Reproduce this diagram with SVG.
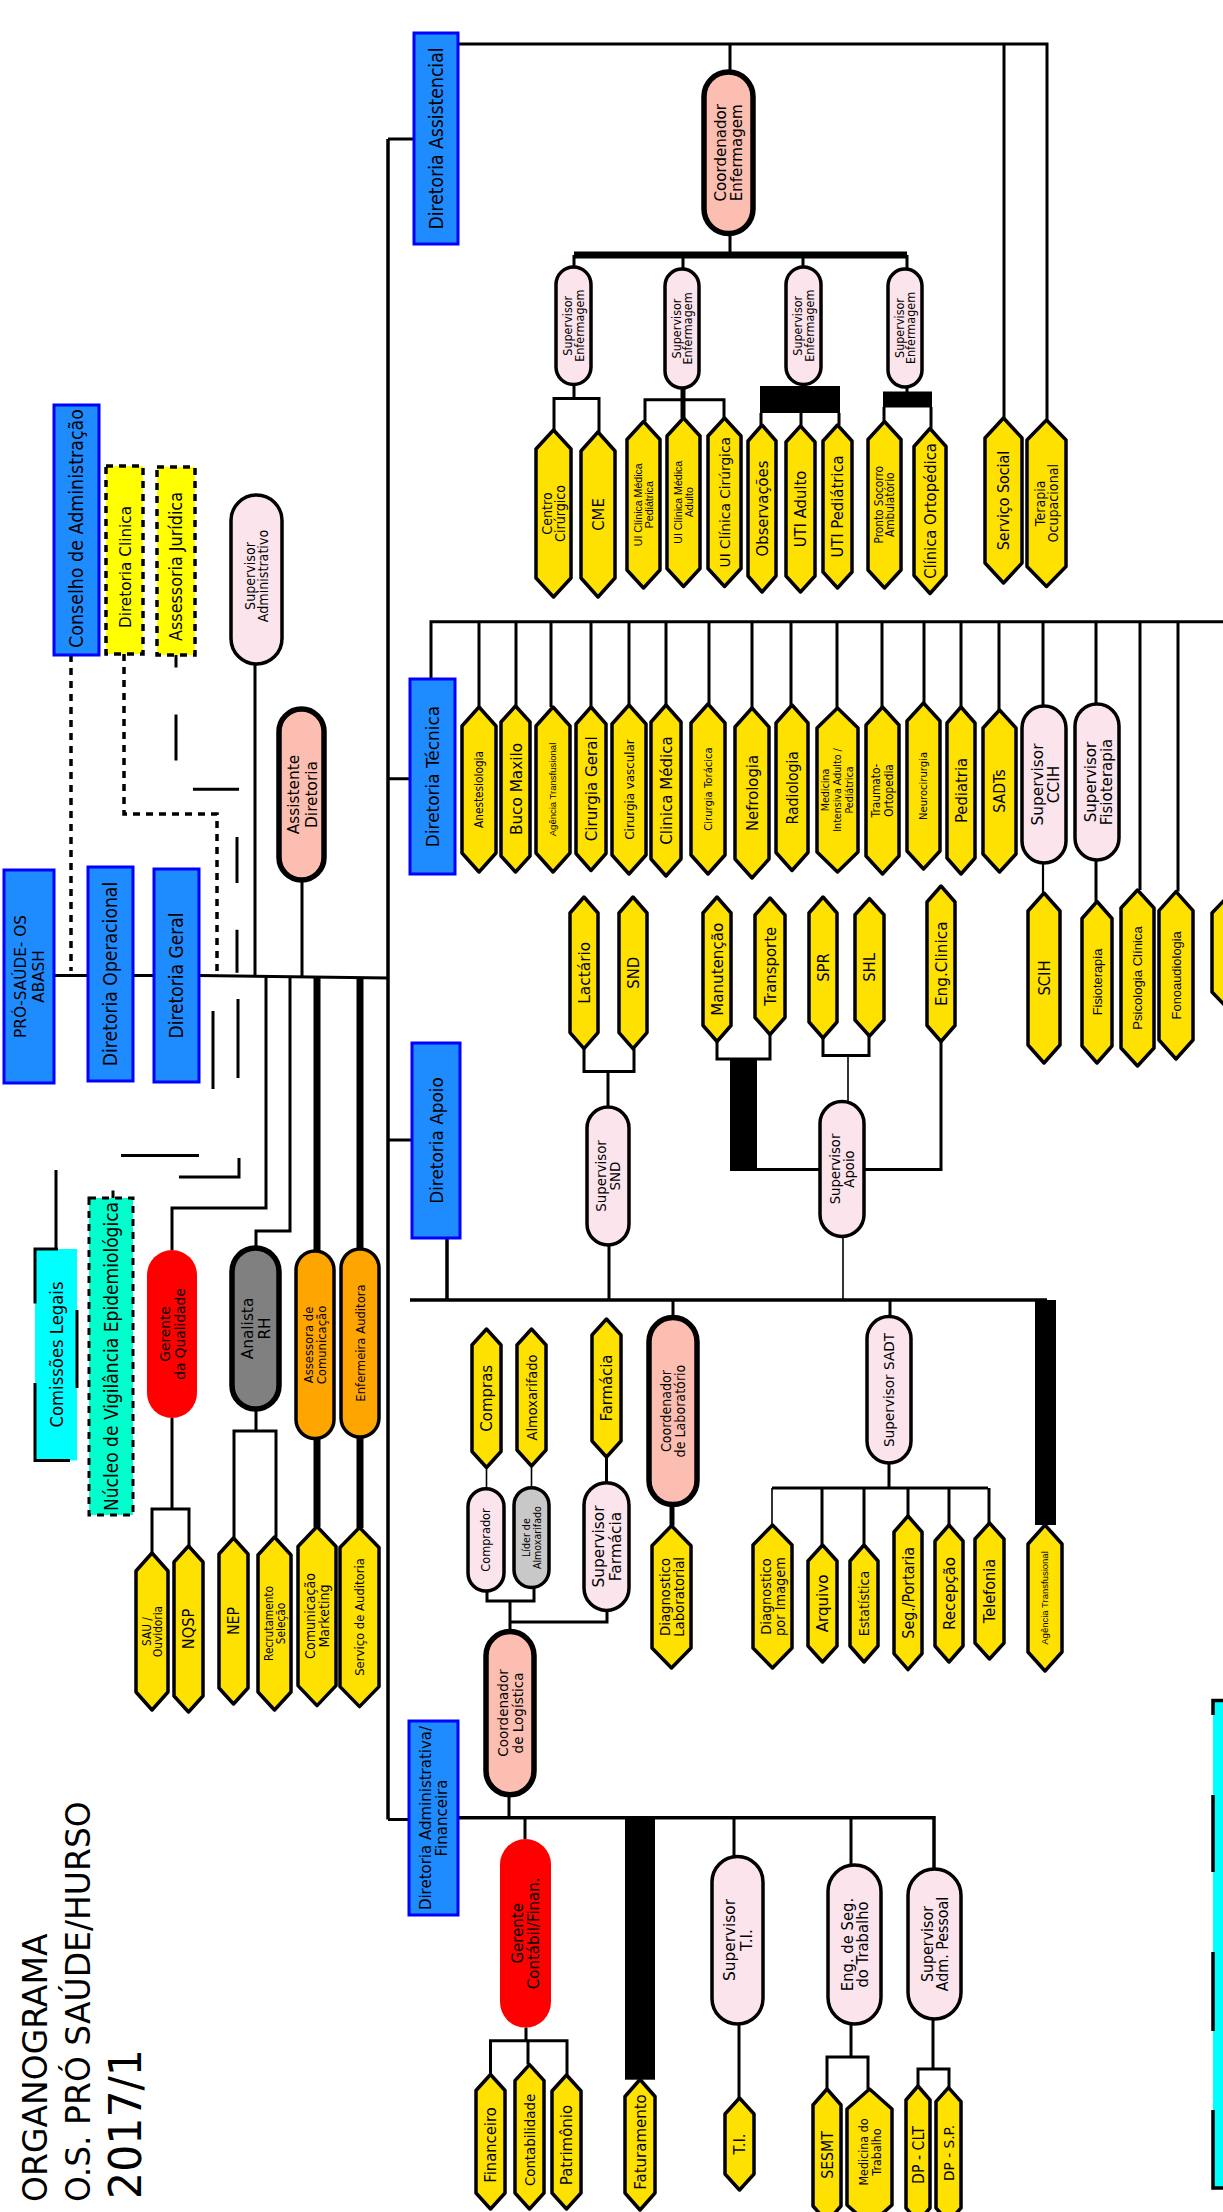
<svg xmlns="http://www.w3.org/2000/svg" width="1223" height="2212" viewBox="0 0 1223 2212">
<style>
.c{fill:none;stroke:#000;stroke-width:3}
.c2{fill:none;stroke:#000;stroke-width:1.6}
.c5{fill:none;stroke:#000;stroke-width:5}
.c6{fill:none;stroke:#000;stroke-width:7}
.d{fill:none;stroke:#000;stroke-width:3.5;stroke-dasharray:7 6}
.y{fill:#FFE100;stroke:#000;stroke-width:3.5;stroke-linejoin:round}
.pk{fill:#FCE4EC;stroke:#000;stroke-width:3.5}
.sa{fill:#FBBEB0;stroke:#000;stroke-width:5.5}
.bl{fill:#1E8CFF;stroke:#0000FF;stroke-width:3}
.or{fill:#FFA500;stroke:#000;stroke-width:3.5}
.rd{fill:#FF0000}
.t{font-family:"DejaVu Sans",Verdana,sans-serif;text-anchor:middle;fill:#000}
.l{font-family:"Liberation Sans",Arial,sans-serif;text-anchor:middle;fill:#000}
.ti{font-family:"DejaVu Sans",Verdana,sans-serif;fill:#000}
.blk{fill:#000}
</style>
<rect x="0" y="0" width="1223" height="2212" fill="#fff"/>

<g id="connectors">
<path class="c" style="stroke-width:3.5" d="M388,139 V1819.5"/>
<path class="c" d="M388,139 H414 M388,778.7 H410 M388,1140 H412 M388,1819.5 H409"/>
<path class="c" d="M54,975.6 H88 M133,975.6 H154 M199,975.6 L388,978"/>
<path class="d" d="M71,655 V971"/>
<path class="d" d="M124,654 V814 H217 V973"/>
<path class="c" d="M176,655 V667.6 M176,714.5 V760.4 M193,789.3 H239 M237,837 V883 M237,929.7 V972.7"/>
<path class="c" d="M213,1011 V1089 M238,999 V1078 M121,1155.4 H199 M179,1177 H239 V1158"/>
<path class="c" d="M56,1170 V1249 M113,1190.6 V1198"/>
<path class="c" d="M255,664 V976 M302,880 V976"/>
<path class="c" d="M266,977 V1208 H172 V1250 M290,977 V1231 H256 V1248"/>
<path class="c6" d="M317,977 V1251 M360,977 V1249 M317,1438 V1527 M360,1437 V1528"/>
<path class="c" d="M172,1418 V1509 M152,1553 V1509 H189 V1546 M256,1409 V1431 M234,1538 V1431 H276 V1537"/>

<path class="c" d="M458,44 H1047 V420 M1004,44 V418 M730,44 V72 M730,233.5 V255"/>
<path class="c6" d="M574,255 H907"/>
<path class="c" d="M574,255 V267 M683,255 V269 M803,255 V267 M907,255 V269"/>
<path class="c" d="M574,384.5 V398.6 M554,430 V398.6 H599 V432"/>
<path class="c" d="M645,421.5 V399.7 H724 V418"/>
<path class="c5" d="M683,388 V418"/>
<path class="c" d="M803,384.5 V387 M761,413 V425 M801,413 V426 M839,413 V425"/>
<rect class="blk" x="760" y="386" width="80" height="27"/>
<path class="c" d="M907,387 V392 M884,407 V421.5 M931,407 V428.5"/>
<rect class="blk" x="883" y="391.5" width="49" height="16"/>

<path class="c" d="M431,679 V621.8 H1223"/>
<path class="c" d="M479,621.8 V707 M516,621.8 V706 M551,621.8 V707 M591,621.8 V707 M629,621.8 V705 M666,621.8 V705 M709,621.8 V704 M752,621.8 V708 M791,621.8 V705 M837,621.8 V708 M882,621.8 V707 M924,621.8 V703 M961,621.8 V707 M999,621.8 V710 M1043,621.8 V706 M1096,621.8 V704 M1140,621.8 V890 M1178,621.8 V891.6"/>
<path class="c" style="stroke-width:2.2" d="M1043,863 V893"/>
<path class="c" d="M1096,860 V901.5"/>

<path class="c" style="stroke-width:3.5" d="M447,1238 V1300 M410,1300 H1047"/>
<rect class="blk" x="1035" y="1300" width="21" height="225"/>
<path class="c" d="M609,1245 V1300 M608,1071.5 V1107 M584,1048.6 V1071.5 H634 V1048.6"/>
<path class="c" d="M717,1041.5 V1059 H770 V1034.5"/>
<rect class="blk" x="730" y="1060" width="27" height="111"/>
<path class="c" d="M757,1169.5 H820 M941,1041.5 V1169.5 H864"/>
<path class="c" d="M823,1038 V1055.6 H869 V1036"/>
<path class="c2" d="M848,1055.6 V1101.5 M843,1236.5 V1300"/>
<path class="c" d="M673,1300 V1317.6"/>
<path class="c5" d="M672,1504.6 V1525.7"/>
<path class="c" d="M890,1300 V1316.6 M889,1463 V1488 M772,1488 H988"/>
<path class="c" d="M822,1488 V1545 M864,1488 V1545 M908,1488 V1516 M949,1488 V1525 M989,1488 V1523"/>
<path class="c2" d="M772,1488 V1525 M486.5,1467.5 V1488.7 M531.5,1466 V1487.7"/>
<path class="c" d="M487,1591 V1601 H534 V1587.5 M510,1601 V1631.6 M510,1622 H607 V1610.4 M606.5,1457 V1482.7"/>

<path class="c" style="stroke-width:3.5" d="M458,1817.7 H934 V1869"/>
<path class="c" d="M509,1794.8 V1817.7 M525,1817.7 V1839 M734,1817.7 V1856.5 M851,1817.7 V1865"/>
<rect class="blk" x="625" y="1817.7" width="30" height="262"/>
<path class="c" d="M739,2024 V2098"/>
<path class="c" d="M526,2027.6 V2040.7 M490.5,2074.5 V2040.7 H567 V2075 M528,2040.7 V2064.6"/>
<path class="c" d="M851,2024 V2057 M827,2089 V2057 H868 V2089"/>
<path class="c" d="M933,2019 V2069 M918,2086 V2069 H949 V2087.6"/>
</g>

<g id="title">
<text class="ti" font-size="33" transform="translate(47,2202) rotate(-90)">ORGANOGRAMA</text>
<text class="ti" font-size="33" transform="translate(90,2202) rotate(-90)">O.S. PRÓ SAÚDE/HURSO</text>
<text class="ti" font-size="44" textLength="150" lengthAdjust="spacingAndGlyphs" transform="translate(141,2199) rotate(-90)">2017/1</text>
</g>

<!-- Blue boxes -->
<g id="n-pro-saude"><rect class="bl" x="4" y="870" width="50" height="213"/><text class="t" font-size="16.6" transform="translate(29,976.5) rotate(-90) scale(0.92,1)"><tspan x="0" y="-3.5">PRÓ-SAÚDE- OS</tspan><tspan x="0" y="14.5">ABASH</tspan></text></g>
<g id="n-dir-operacional"><rect class="bl" x="88" y="867" width="45" height="214"/><text class="t" font-size="18.75" y="6.75" transform="translate(110.5,974) rotate(-90) scale(0.92,1)">Diretoria Operacional</text></g>
<g id="n-dir-geral"><rect class="bl" x="154" y="869" width="45" height="213"/><text class="t" font-size="18.6" y="6.7" transform="translate(176.5,975.5) rotate(-90) scale(0.92,1)">Diretoria Geral</text></g>
<g id="n-conselho"><rect class="bl" x="54" y="405" width="45" height="250"/><text class="t" font-size="19" y="6.8" transform="translate(76.5,528.5) rotate(-90) scale(0.92,1)">Conselho de Administração</text></g>
<g id="n-dir-clinica"><rect x="106" y="466" width="37" height="188" fill="#FFFF00" stroke="#000" stroke-width="3.5" stroke-dasharray="7 6"/><text class="t" font-size="16.6" y="6" transform="translate(124.5,567) rotate(-90) scale(0.92,1)">Diretoria Clinica</text></g>
<g id="n-assessoria-juridica"><rect x="157" y="467" width="38" height="188" fill="#FFFF00" stroke="#000" stroke-width="3.5" stroke-dasharray="7 6"/><text class="t" font-size="17.4" y="6.3" transform="translate(176,566.5) rotate(-90) scale(0.92,1)">Assessoria Jurídica</text></g>
<g id="n-dir-assistencial"><rect class="bl" x="414" y="33" width="44" height="211"/><text class="t" font-size="18.75" y="6.75" transform="translate(436,138.5) rotate(-90) scale(0.92,1)">Diretoria Assistencial</text></g>
<g id="n-dir-tecnica"><rect class="bl" x="410" y="679" width="45" height="195"/><text class="t" font-size="18.4" y="6.6" transform="translate(432.5,776.5) rotate(-90) scale(0.92,1)">Diretoria Técnica</text></g>
<g id="n-dir-apoio"><rect class="bl" x="412" y="1043" width="48" height="195"/><text class="t" font-size="18.4" y="6.6" transform="translate(436,1140.5) rotate(-90) scale(0.92,1)">Diretoria Apoio</text></g>
<g id="n-dir-adm"><rect class="bl" x="409" y="1721" width="49" height="194"/><text class="t" font-size="16.3" transform="translate(433.5,1818) rotate(-90) scale(0.92,1)"><tspan x="0" y="-2.5">Diretoria Administrativa/</tspan><tspan x="0" y="13.8">Financeira</tspan></text></g>

<!-- Left side -->
<g id="n-comissoes"><rect x="35" y="1249" width="42" height="211.5" fill="#00FFFF"/><path class="c" d="M58,1249 H35 V1303.5 M35,1383 V1460.5 H70 M77,1310 V1388"/><text class="t" font-size="17.9" y="6.5" transform="translate(56,1354.5) rotate(-90) scale(0.92,1)">Comissões Legais</text></g>
<g id="n-nucleo"><rect x="89" y="1198" width="44" height="317" fill="#00FFCC" stroke="#000" stroke-width="3" stroke-dasharray="7 6"/><text class="t" font-size="18.6" y="6.7" transform="translate(111,1356.5) rotate(-90) scale(0.92,1)">Núcleo de Vigilância Epidemiológica</text></g>
<g id="n-sup-adm"><rect class="pk" x="231" y="495" width="51" height="169" rx="25.5"/><text class="t" font-size="13.8" transform="translate(256.5,576) rotate(-90) scale(0.92,1)"><tspan x="0" y="-1.75">Supervisor</tspan><tspan x="0" y="11.7">Administrativo</tspan></text></g>
<g id="n-assistente"><rect class="sa" x="279" y="709" width="45" height="171" rx="22.5"/><text class="t" font-size="16.7" transform="translate(301.5,794.5) rotate(-90) scale(0.92,1)"><tspan x="0" y="-2.3">Assistente</tspan><tspan x="0" y="15">Diretoria</tspan></text></g>
<g id="n-ger-qualidade"><rect class="rd" x="147" y="1250" width="50" height="168" rx="25"/><text class="t" font-size="14.95" transform="translate(172,1334) rotate(-90) scale(0.92,1)"><tspan x="0" y="-1.9">Gerente</tspan><tspan x="0" y="12.7">da Qualidade</tspan></text></g>
<g id="n-analista-rh"><rect x="232" y="1248" width="47" height="161" rx="23.5" fill="#808080" stroke="#000" stroke-width="5.5"/><text class="t" font-size="16.7" transform="translate(255.5,1328.5) rotate(-90) scale(0.92,1)"><tspan x="0" y="-2.1">Analista</tspan><tspan x="0" y="14.1">RH</tspan></text></g>
<g id="n-assessora"><rect class="or" x="296" y="1251" width="38" height="187.6" rx="19"/><text class="t" font-size="12.65" transform="translate(315,1345) rotate(-90) scale(0.92,1)"><tspan x="0" y="-1.6">Assessora de</tspan><tspan x="0" y="10.7">Comunicação</tspan></text></g>
<g id="n-enf-auditora"><rect class="or" x="341" y="1249" width="38" height="188" rx="19"/><text class="t" font-size="12.65" y="4.55" transform="translate(360,1343) rotate(-90) scale(0.92,1)">Enfermeira Auditora</text></g>
<g id="n-sau"><path class="y" d="M136,1571 L152,1553 L168,1571 V1692 L152,1710 L136,1692Z"/><text class="t" font-size="11.5" transform="translate(152,1631.5) rotate(-90) scale(0.92,1)"><tspan x="0" y="-1.5">SAU /</tspan><tspan x="0" y="9.7">Ouvidoria</tspan></text></g>
<g id="n-nqsp"><path class="y" d="M174,1562 L188.5,1546 L203,1562 V1696 L188.5,1712 L174,1696Z"/><text class="t" font-size="15.9" y="5.7" transform="translate(188.5,1629) rotate(-90) scale(0.92,1)">NQSP</text></g>
<g id="n-nep"><path class="y" d="M219,1554 L233.5,1538 L248,1554 V1688 L233.5,1704 L219,1688Z"/><text class="t" font-size="15.4" y="5.55" transform="translate(233.5,1621) rotate(-90) scale(0.92,1)">NEP</text></g>
<g id="n-recrutamento"><path class="y" d="M258,1555 L274.5,1537 L291,1555 V1692 L274.5,1710 L258,1692Z"/><text class="t" font-size="11.5" transform="translate(274.5,1623.5) rotate(-90) scale(0.92,1)"><tspan x="0" y="-1.5">Recrutamento</tspan><tspan x="0" y="10.5">Seleção</tspan></text></g>
<g id="n-com-marketing"><path class="y" d="M298,1546.5 L317,1526.5 L336,1546.5 V1685.6 L317,1705.6 L298,1685.6Z"/><text class="t" font-size="13.8" transform="translate(317,1616) rotate(-90) scale(0.92,1)"><tspan x="0" y="-1.75">Comunicação</tspan><tspan x="0" y="12.2">Marketing</tspan></text></g>
<g id="n-serv-auditoria"><path class="y" d="M340,1547.5 L359.5,1527.5 L379,1547.5 V1686.6 L359.5,1706.6 L340,1686.6Z"/><text class="t" font-size="12.65" y="4.55" transform="translate(359.5,1617) rotate(-90) scale(0.92,1)">Serviço de Auditoria</text></g>

<!-- Assistencial -->
<g id="n-coord-enf"><rect class="sa" x="704" y="72" width="49" height="161.5" rx="24.5"/><text class="t" font-size="16.4" transform="translate(728.5,152.75) rotate(-90) scale(0.92,1)"><tspan x="0" y="-2.3">Coordenador</tspan><tspan x="0" y="13.9">Enfermagem</tspan></text></g>
<g id="n-sup-enf-1"><rect class="pk" x="556" y="267" width="35" height="117.5" rx="17.5"/><text class="t" font-size="12.2" transform="translate(573.5,325.75) rotate(-90) scale(0.92,1)"><tspan x="0" y="-1.5">Supervisor</tspan><tspan x="0" y="10.3">Enfermagem</tspan></text></g>
<g id="n-sup-enf-2"><rect class="pk" x="665" y="269" width="34" height="119" rx="17"/><text class="t" font-size="12.2" transform="translate(682,328.5) rotate(-90) scale(0.92,1)"><tspan x="0" y="-1.5">Supervisor</tspan><tspan x="0" y="10.3">Enfermagem</tspan></text></g>
<g id="n-sup-enf-3"><rect class="pk" x="786" y="267" width="35" height="117.5" rx="17.5"/><text class="t" font-size="12.2" transform="translate(803.5,325.75) rotate(-90) scale(0.92,1)"><tspan x="0" y="-1.5">Supervisor</tspan><tspan x="0" y="10.3">Enfermagem</tspan></text></g>
<g id="n-sup-enf-4"><rect class="pk" x="888" y="269" width="34" height="118" rx="17"/><text class="t" font-size="12.2" transform="translate(905,328) rotate(-90) scale(0.92,1)"><tspan x="0" y="-1.5">Supervisor</tspan><tspan x="0" y="10.3">Enfermagem</tspan></text></g>
<g id="n-centro-cirurgico"><path class="y" d="M536,449 L553.5,430 L571,449 V578 L553.5,597 L536,578Z"/><text class="t" font-size="13.8" transform="translate(553.5,513.5) rotate(-90) scale(0.92,1)"><tspan x="0" y="-1.75">Centro</tspan><tspan x="0" y="11.7">Cirúrgico</tspan></text></g>
<g id="n-cme"><path class="y" d="M581,451 L598,432 L615,451 V578 L598,597 L581,578Z"/><text class="t" font-size="16.1" y="5.8" transform="translate(598,514.5) rotate(-90) scale(0.92,1)">CME</text></g>
<g id="n-ui-ped"><path class="y" d="M627,439.5 L643.5,421.5 L660,439.5 V570 L643.5,588 L627,570Z"/><text class="l" font-size="10.6" transform="translate(643.5,504.75) rotate(-90)"><tspan x="0" y="-2">UI Clínica Médica</tspan><tspan x="0" y="9.6">Pediátrica</tspan></text></g>
<g id="n-ui-adulto"><path class="y" d="M667,436 L683.5,418 L700,436 V568.5 L683.5,586.5 L667,568.5Z"/><text class="l" font-size="10.6" transform="translate(683.5,502.25) rotate(-90)"><tspan x="0" y="-2">UI Clínica Médica</tspan><tspan x="0" y="9.6">Adulto</tspan></text></g>
<g id="n-ui-cirurgica"><path class="y" d="M708,436 L724.5,418 L741,436 V568.5 L724.5,586.5 L708,568.5Z"/><text class="t" font-size="14.95" y="5.4" transform="translate(724.5,502.25) rotate(-90) scale(0.92,1)">UI Clínica Cirúrgica</text></g>
<g id="n-observacoes"><path class="y" d="M748,441 L762,425 L776,441 V576 L762,592 L748,576Z"/><text class="t" font-size="16.1" y="5.8" transform="translate(762,508.5) rotate(-90) scale(0.92,1)">Observações</text></g>
<g id="n-uti-adulto"><path class="y" d="M786,442 L800.5,426 L815,442 V576 L800.5,592 L786,576Z"/><text class="t" font-size="16.1" y="5.8" transform="translate(800.5,509) rotate(-90) scale(0.92,1)">UTI Adulto</text></g>
<g id="n-uti-ped"><path class="y" d="M823,441 L837.5,425 L852,441 V572 L837.5,588 L823,572Z"/><text class="t" font-size="16.1" y="5.8" transform="translate(837.5,506.5) rotate(-90) scale(0.92,1)">UTI Pediátrica</text></g>
<g id="n-pronto-socorro"><path class="y" d="M868,439.5 L884.5,421.5 L901,439.5 V570 L884.5,588 L868,570Z"/><text class="t" font-size="11.5" transform="translate(884.5,504.75) rotate(-90) scale(0.92,1)"><tspan x="0" y="-1.5">Pronto Socorro</tspan><tspan x="0" y="9.9">Ambulatório</tspan></text></g>
<g id="n-clin-ortopedica"><path class="y" d="M914,446.5 L930,428.5 L946,446.5 V575.5 L930,593.5 L914,575.5Z"/><text class="t" font-size="16.1" y="5.8" transform="translate(930,511) rotate(-90) scale(0.92,1)">Clínica Ortopédica</text></g>
<g id="n-servico-social"><path class="y" d="M985,438 L1003.5,418 L1022,438 V563 L1003.5,583 L985,563Z"/><text class="t" font-size="15.5" y="5.6" transform="translate(1003.5,500.5) rotate(-90) scale(0.92,1)">Serviço Social</text></g>
<g id="n-terapia-ocup"><path class="y" d="M1027,440 L1046.5,420 L1066,440 V566.5 L1046.5,586.5 L1027,566.5Z"/><text class="t" font-size="13.8" transform="translate(1046.5,503.25) rotate(-90) scale(0.92,1)"><tspan x="0" y="-1.75">Terapia</tspan><tspan x="0" y="11.9">Ocupacional</tspan></text></g>

<!-- Tecnica -->
<g id="n-anestesiologia"><path class="y" d="M462,726 L479,707 L496,726 V853 L479,872 L462,853Z"/><text class="t" font-size="11.5" y="4.1" transform="translate(479,789.5) rotate(-90) scale(0.92,1)">Anestesiologia</text></g>
<g id="n-buco-maxilo"><path class="y" d="M501,722 L515.5,706 L530,722 V856 L515.5,872 L501,856Z"/><text class="t" font-size="16.6" y="6" transform="translate(515.5,789) rotate(-90) scale(0.92,1)">Buco Maxilo</text></g>
<g id="n-agencia-1"><path class="y" d="M536,726 L553,707 L570,726 V853 L553,872 L536,853Z"/><text class="l" font-size="9.5" y="3.4" transform="translate(553,789.5) rotate(-90)">Agência Transfusional</text></g>
<g id="n-cir-geral"><path class="y" d="M576,724 L591,707 L606,724 V853.5 L591,870.5 L576,853.5Z"/><text class="t" font-size="16.4" y="5.9" transform="translate(591,788.75) rotate(-90) scale(0.92,1)">Cirurgia Geral</text></g>
<g id="n-cir-vascular"><path class="y" d="M612,724 L629,705 L646,724 V855 L629,874 L612,855Z"/><text class="t" font-size="12.9" y="4.6" transform="translate(629,789.5) rotate(-90) scale(0.92,1)">Cirurgia vascular</text></g>
<g id="n-clin-medica"><path class="y" d="M651,722 L666,705 L681,722 V859 L666,876 L651,859Z"/><text class="t" font-size="16.4" y="5.9" transform="translate(666,790.5) rotate(-90) scale(0.92,1)">Clinica Médica</text></g>
<g id="n-cir-toracica"><path class="y" d="M691,723 L708,704 L725,723 V855 L708,874 L691,855Z"/><text class="t" font-size="10.9" y="3.9" transform="translate(708,789) rotate(-90) scale(0.92,1)">Cirurgia Torácica</text></g>
<g id="n-nefrologia"><path class="y" d="M735,727 L752,708 L769,727 V859 L752,878 L735,859Z"/><text class="t" font-size="16.1" y="5.8" transform="translate(752,793) rotate(-90) scale(0.92,1)">Nefrologia</text></g>
<g id="n-radiologia"><path class="y" d="M776,723 L792,705 L808,723 V852.5 L792,870.5 L776,852.5Z"/><text class="t" font-size="15.3" y="5.5" transform="translate(792,787.75) rotate(-90) scale(0.92,1)">Radiologia</text></g>
<g id="n-med-intensiva"><path class="y" d="M817,728 L837.5,708 L858,728 V852 L837.5,872 L817,852Z"/><text class="t" font-size="10.35" transform="translate(837.5,790) rotate(-90) scale(0.92,1)"><tspan x="0" y="-8.3">Medicina</tspan><tspan x="0" y="3.7">Intensiva Adulto /</tspan><tspan x="0" y="15.7">Pediátrica</tspan></text></g>
<g id="n-traumato"><path class="y" d="M866,725 L882.5,707 L899,725 V856 L882.5,874 L866,856Z"/><text class="t" font-size="11.5" transform="translate(882.5,790.5) rotate(-90) scale(0.92,1)"><tspan x="0" y="-2.4">Traumato-</tspan><tspan x="0" y="10.6">Ortopedia</tspan></text></g>
<g id="n-neurocirurgia"><path class="y" d="M907,721 L923.5,703 L940,721 V851 L923.5,869 L907,851Z"/><text class="t" font-size="10.9" y="3.9" transform="translate(923.5,786) rotate(-90) scale(0.92,1)">Neurocirurgia</text></g>
<g id="n-pediatria"><path class="y" d="M947,723 L961,707 L975,723 V858 L961,874 L947,858Z"/><text class="t" font-size="16.1" y="5.8" transform="translate(961,790.5) rotate(-90) scale(0.92,1)">Pediatria</text></g>
<g id="n-sadts"><path class="y" d="M983,728 L999.5,710 L1016,728 V854 L999.5,872 L983,854Z"/><text class="t" font-size="15.4" y="5.55" transform="translate(999.5,791) rotate(-90) scale(0.92,1)">SADTs</text></g>
<g id="n-sup-ccih"><rect class="pk" x="1022" y="706" width="44" height="157" rx="22"/><text class="t" font-size="16.7" transform="translate(1044,784.5) rotate(-90) scale(0.92,1)"><tspan x="0" y="-1">Supervisor</tspan><tspan x="0" y="15">CCIH</tspan></text></g>
<g id="n-sup-fisio"><rect class="pk" x="1075" y="704" width="44" height="156" rx="22"/><text class="t" font-size="16.4" transform="translate(1097,782) rotate(-90) scale(0.92,1)"><tspan x="0" y="-1.5">Supervisor</tspan><tspan x="0" y="14.5">Fisioterapia</tspan></text></g>
<g id="n-scih"><path class="y" d="M1028,911 L1044,893 L1060,911 V1045 L1044,1063 L1028,1045Z"/><text class="t" font-size="16.1" y="5.8" transform="translate(1044,978) rotate(-90) scale(0.92,1)">SCIH</text></g>
<g id="n-fisioterapia"><path class="y" d="M1082,918.5 L1097,901.5 L1112,918.5 V1046 L1097,1063 L1082,1046Z"/><text class="l" font-size="12.9" y="4.6" transform="translate(1097,982) rotate(-90)">Fisioterapia</text></g>
<g id="n-psicologia"><path class="y" d="M1121,908 L1137.5,890 L1154,908 V1048 L1137.5,1066 L1121,1048Z"/><text class="l" font-size="13.1" y="4.7" transform="translate(1137.5,978) rotate(-90)">Psicologia Clínica</text></g>
<g id="n-fonoaudiologia"><path class="y" d="M1159,910.6 L1176,891.6 L1193,910.6 V1040 L1176,1059 L1159,1040Z"/><text class="l" font-size="12.9" y="4.6" transform="translate(1176,975.3) rotate(-90)">Fonoaudiologia</text></g>
<g id="n-partial"><path class="y" d="M1212,913 L1231,893 L1250,913 V992 L1231,1012 L1212,992Z"/></g>

<!-- Apoio -->
<g id="n-lactario"><path class="y" d="M570,913 L584,897 L598,913 V1032.6 L584,1048.6 L570,1032.6Z"/><text class="t" font-size="16.7" y="6" transform="translate(584,972.8) rotate(-90) scale(0.92,1)">Lactário</text></g>
<g id="n-snd"><path class="y" d="M619,913 L633,897 L647,913 V1032.6 L633,1048.6 L619,1032.6Z"/><text class="t" font-size="16.1" y="5.8" transform="translate(633,972.8) rotate(-90) scale(0.92,1)">SND</text></g>
<g id="n-manutencao"><path class="y" d="M703,913 L717,897 L731,913 V1025.5 L717,1041.5 L703,1025.5Z"/><text class="t" font-size="16.4" y="5.9" transform="translate(717,969.3) rotate(-90) scale(0.92,1)">Manutenção</text></g>
<g id="n-transporte"><path class="y" d="M755,915 L770,898 L785,915 V1017.5 L770,1034.5 L755,1017.5Z"/><text class="t" font-size="16.2" y="5.85" transform="translate(770,966.3) rotate(-90) scale(0.92,1)">Transporte</text></g>
<g id="n-spr"><path class="y" d="M809,913 L823,897 L837,913 V1022 L823,1038 L809,1022Z"/><text class="t" font-size="16.1" y="5.8" transform="translate(823,967.5) rotate(-90) scale(0.92,1)">SPR</text></g>
<g id="n-shl"><path class="y" d="M855,914.7 L869.5,898.7 L884,914.7 V1020 L869.5,1036 L855,1020Z"/><text class="t" font-size="16.1" y="5.8" transform="translate(869.5,967.4) rotate(-90) scale(0.92,1)">SHL</text></g>
<g id="n-eng-clinica"><path class="y" d="M927,902 L941,886 L955,902 V1025.5 L941,1041.5 L927,1025.5Z"/><text class="t" font-size="16.6" y="6" transform="translate(941,963.8) rotate(-90) scale(0.92,1)">Eng.Clinica</text></g>
<g id="n-sup-snd"><rect class="pk" x="587" y="1107" width="42" height="138" rx="21"/><text class="t" font-size="14.6" transform="translate(608,1176) rotate(-90) scale(0.92,1)"><tspan x="0" y="-1.85">Supervisor</tspan><tspan x="0" y="12.4">SND</tspan></text></g>
<g id="n-sup-apoio"><rect class="pk" x="820" y="1101.5" width="44" height="135" rx="22"/><text class="t" font-size="14.4" transform="translate(842,1169) rotate(-90) scale(0.92,1)"><tspan x="0" y="-1.8">Supervisor</tspan><tspan x="0" y="12.2">Apoio</tspan></text></g>
<g id="n-coord-lab"><rect class="sa" x="649" y="1317.6" width="48" height="187" rx="24"/><text class="t" font-size="13.8" transform="translate(673,1411) rotate(-90) scale(0.92,1)"><tspan x="0" y="-1.75">Coordenador</tspan><tspan x="0" y="11.9">de Laboratório</tspan></text></g>
<g id="n-sup-sadt"><rect class="pk" x="867" y="1316.6" width="44" height="146.4" rx="22"/><text class="t" font-size="14.8" y="5.3" transform="translate(889,1390) rotate(-90) scale(0.92,1)">Supervisor SADT</text></g>
<g id="n-compras"><path class="y" d="M472,1345 L486.5,1329 L501,1345 V1451.5 L486.5,1467.5 L472,1451.5Z"/><text class="t" font-size="16.3" y="5.9" transform="translate(486.5,1398.3) rotate(-90) scale(0.92,1)">Compras</text></g>
<g id="n-almoxarifado"><path class="y" d="M517,1345 L531.5,1329 L546,1345 V1450 L531.5,1466 L517,1450Z"/><text class="t" font-size="14.1" y="5.1" transform="translate(531.5,1397.5) rotate(-90) scale(0.92,1)">Almoxarifado</text></g>
<g id="n-farmacia"><path class="y" d="M592,1335 L606.5,1319 L621,1335 V1441 L606.5,1457 L592,1441Z"/><text class="t" font-size="16.1" y="5.8" transform="translate(606.5,1388) rotate(-90) scale(0.92,1)">Farmácia</text></g>
<g id="n-comprador"><rect class="pk" x="468" y="1488.7" width="36" height="102.3" rx="18"/><text class="t" font-size="12.3" y="4.4" transform="translate(486,1540) rotate(-90) scale(0.92,1)">Comprador</text></g>
<g id="n-lider-almox"><rect x="514" y="1487.7" width="35" height="99.8" rx="17.5" fill="#C8C8C8" stroke="#000" stroke-width="3.5"/><text class="t" font-size="10.35" transform="translate(531.5,1537.6) rotate(-90) scale(0.92,1)"><tspan x="0" y="-1.3">Líder de</tspan><tspan x="0" y="9.3">Almoxarifado</tspan></text></g>
<g id="n-sup-farmacia"><rect class="pk" x="584" y="1482.7" width="45" height="127.7" rx="22.5"/><text class="t" font-size="16.7" transform="translate(606.5,1546.5) rotate(-90) scale(0.92,1)"><tspan x="0" y="-2.1">Supervisor</tspan><tspan x="0" y="14.1">Farmácia</tspan></text></g>
<g id="n-coord-logistica"><rect class="sa" x="486" y="1631.6" width="48" height="163.2" rx="24"/><text class="t" font-size="14.7" transform="translate(510,1713) rotate(-90) scale(0.92,1)"><tspan x="0" y="-1.9">Coordenador</tspan><tspan x="0" y="12.5">de Logística</tspan></text></g>
<g id="n-diag-lab"><path class="y" d="M652,1545.7 L671.5,1525.7 L691,1545.7 V1648 L671.5,1668 L652,1648Z"/><text class="t" font-size="14.4" transform="translate(671.5,1596.9) rotate(-90) scale(0.92,1)"><tspan x="0" y="-1.8">Diagnostico</tspan><tspan x="0" y="12.2">Laboratorial</tspan></text></g>
<g id="n-diag-imagem"><path class="y" d="M753,1545 L772.5,1525 L792,1545 V1648 L772.5,1668 L753,1648Z"/><text class="t" font-size="14.1" transform="translate(772.5,1596.5) rotate(-90) scale(0.92,1)"><tspan x="0" y="-1.8">Diagnostico</tspan><tspan x="0" y="12">por Imagem</tspan></text></g>
<g id="n-arquivo"><path class="y" d="M808,1561 L822.5,1545 L837,1561 V1646 L822.5,1662 L808,1646Z"/><text class="t" font-size="16.4" y="5.9" transform="translate(822.5,1603.5) rotate(-90) scale(0.92,1)">Arquivo</text></g>
<g id="n-estatistica"><path class="y" d="M850,1561 L864,1545 L878,1561 V1646 L864,1662 L850,1646Z"/><text class="t" font-size="13.8" y="5" transform="translate(864,1603.5) rotate(-90) scale(0.92,1)">Estatística</text></g>
<g id="n-seg-portaria"><path class="y" d="M894,1532 L908,1516 L922,1532 V1653.6 L908,1669.6 L894,1653.6Z"/><text class="t" font-size="15.5" y="5.6" transform="translate(908,1592.8) rotate(-90) scale(0.92,1)">Seg./Portaria</text></g>
<g id="n-recepcao"><path class="y" d="M935,1541 L949,1525 L963,1541 V1646 L949,1662 L935,1646Z"/><text class="t" font-size="16.4" y="5.9" transform="translate(949,1593.5) rotate(-90) scale(0.92,1)">Recepção</text></g>
<g id="n-telefonia"><path class="y" d="M975,1539 L989.5,1523 L1004,1539 V1643 L989.5,1659 L975,1643Z"/><text class="t" font-size="15.75" y="5.7" transform="translate(989.5,1591) rotate(-90) scale(0.92,1)">Telefonia</text></g>
<g id="n-agencia-2"><path class="y" d="M1028,1544 L1045,1525 L1062,1544 V1652 L1045,1671 L1028,1652Z"/><text class="l" font-size="9.5" y="3.4" transform="translate(1045,1598) rotate(-90)">Agência Transfusional</text></g>

<!-- Adm / Fin -->
<g id="n-ger-contabil"><rect class="rd" x="500" y="1839" width="51" height="188.6" rx="25.5"/><text class="t" font-size="16.3" transform="translate(525.5,1933.3) rotate(-90) scale(0.92,1)"><tspan x="0" y="-2.1">Gerente</tspan><tspan x="0" y="13.8">Contábil/Finan.</tspan></text></g>
<g id="n-financeiro"><path class="y" d="M476,2090.5 L490.5,2074.5 L505,2090.5 V2193 L490.5,2209 L476,2193Z"/><text class="t" font-size="16.1" y="5.8" transform="translate(490.5,2145) rotate(-90) scale(0.92,1)">Financeiro</text></g>
<g id="n-contabilidade"><path class="y" d="M515,2080.6 L529.5,2064.6 L544,2080.6 V2193 L529.5,2209 L515,2193Z"/><text class="t" font-size="14.5" y="5.2" transform="translate(529.5,2140) rotate(-90) scale(0.92,1)">Contabilidade</text></g>
<g id="n-patrimonio"><path class="y" d="M552,2091 L566.5,2075 L581,2091 V2193 L566.5,2209 L552,2193Z"/><text class="t" font-size="16.3" y="5.9" transform="translate(566.5,2145) rotate(-90) scale(0.92,1)">Patrimônio</text></g>
<g id="n-faturamento"><path class="y" d="M625,2096.5 L640,2079.5 L655,2096.5 V2193 L640,2210 L625,2193Z"/><text class="t" font-size="16.3" y="5.9" transform="translate(640,2142) rotate(-90) scale(0.92,1)">Faturamento</text></g>
<g id="n-sup-ti"><rect class="pk" x="712" y="1856.5" width="51" height="167.5" rx="25.5"/><text class="t" font-size="16.7" transform="translate(737.5,1940) rotate(-90) scale(0.92,1)"><tspan x="0" y="-2.1">Supervisor</tspan><tspan x="0" y="14.1">T.I.</tspan></text></g>
<g id="n-ti"><path class="y" d="M725,2114 L739.5,2098 L754,2114 V2174 L739.5,2190 L725,2174Z"/><text class="t" font-size="16.1" y="5.8" transform="translate(739.5,2144) rotate(-90) scale(0.92,1)">T.I.</text></g>
<g id="n-eng-seg"><rect class="pk" x="828" y="1865" width="53" height="159" rx="26.5"/><text class="t" font-size="16.1" transform="translate(854.5,1944.5) rotate(-90) scale(0.92,1)"><tspan x="0" y="-2">Eng. de Seg.</tspan><tspan x="0" y="13.6">do Trabalho</tspan></text></g>
<g id="n-sup-adm-pessoal"><rect class="pk" x="908" y="1869" width="53" height="150" rx="26.5"/><text class="t" font-size="15.5" transform="translate(934.5,1944) rotate(-90) scale(0.92,1)"><tspan x="0" y="-2">Supervisor</tspan><tspan x="0" y="13.1">Adm. Pessoal</tspan></text></g>
<g id="n-sesmt"><path class="y" d="M813,2105 L827,2089 L841,2105 V2206 L827,2222 L813,2206Z"/><text class="t" font-size="15.3" y="5.5" transform="translate(827,2155) rotate(-90) scale(0.92,1)">SESMT</text></g>
<g id="n-med-trabalho"><path class="y" d="M847,2109 L869.5,2089 L892,2109 V2205 L869.5,2225 L847,2205Z"/><text class="t" font-size="12.1" transform="translate(869.5,2152) rotate(-90) scale(0.92,1)"><tspan x="0" y="-1.5">Medicina do</tspan><tspan x="0" y="11">Trabalho</tspan></text></g>
<g id="n-dp-clt"><path class="y" d="M906,2100 L918,2086 L930,2100 V2208 L918,2222 L906,2208Z"/><text class="t" font-size="15.4" y="5.55" transform="translate(918,2155) rotate(-90) scale(0.92,1)">DP - CLT</text></g>
<g id="n-dp-sp"><path class="y" d="M936,2101.6 L948.5,2087.6 L961,2101.6 V2208 L948.5,2222 L936,2208Z"/><text class="t" font-size="14.95" y="5.4" transform="translate(948.5,2153) rotate(-90) scale(0.92,1)">DP - S.P.</text></g>

<g id="n-cyan-box"><rect x="1213" y="1700.6" width="30" height="487.4" fill="#00FFFF"/><path class="c" style="stroke-width:3.5" d="M1223,1700.6 H1213 V1715 M1213,1795 V1872 M1213,1952 V2031 M1213,2110 V2188 H1223"/></g>
</svg>
